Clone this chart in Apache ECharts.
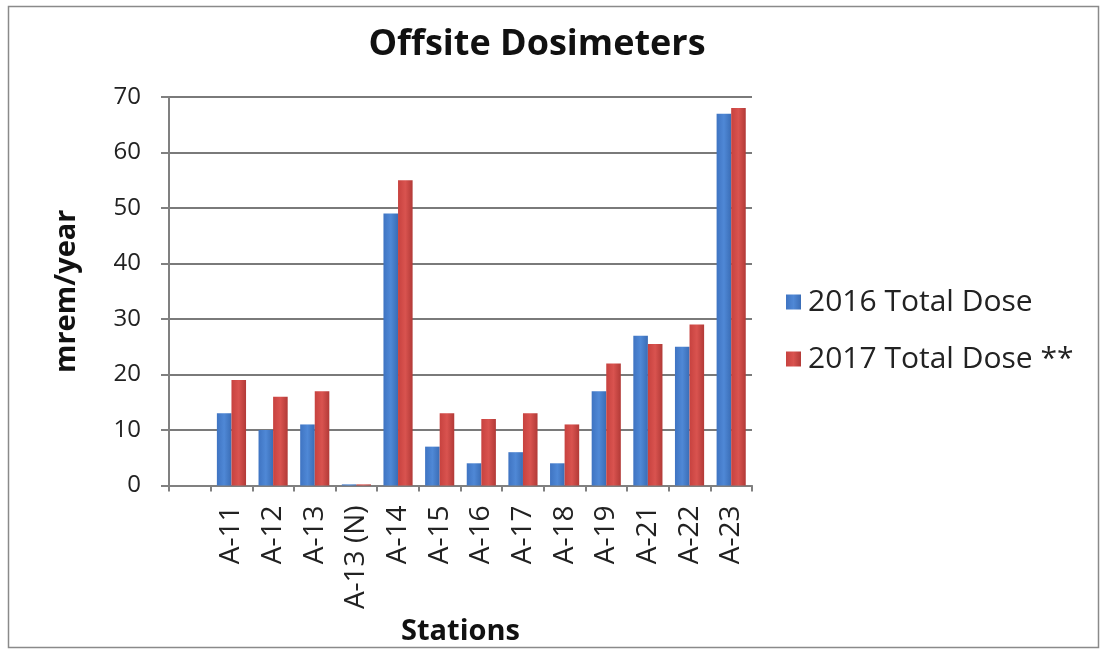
<!DOCTYPE html>
<html>
<head>
<meta charset="utf-8">
<script src="https://cdn.jsdelivr.net/npm/echarts@6/dist/echarts.min.js"></script>
<style>
  html, body { margin: 0; padding: 0; background: #fff; }
  #main { width: 1103px; height: 651px; }
</style>
</head>
<body>
<div id="main"></div>
<script>
  // stations (first slot is empty in the original)
  var stations = ['', 'A-11', 'A-12', 'A-13', 'A-13 (N)', 'A-14', 'A-15', 'A-16', 'A-17', 'A-18', 'A-19', 'A-21', 'A-22', 'A-23'];
  var dose2016 = [null, 13, 10, 11, 0.2, 49, 7, 4, 6, 4, 17, 27, 25, 67];
  var dose2017 = [null, 19, 16, 17, 0.2, 55, 13, 12, 13, 11, 22, 25.5, 29, 68];
  var yTicks = [0, 10, 20, 30, 40, 50, 60, 70];

  var chart = echarts.init(document.getElementById('main'));

  var font = '"Open Sans", "DejaVu Sans", sans-serif';

  var option = {
    backgroundColor: '#fff',
    animation: false,
    textStyle: { fontFamily: font },
    title: {
      text: 'Offsite Dosimeters',
      left: 532,
      top: 22,
      textAlign: 'center',
      textStyle: { fontSize: 36, fontWeight: 'bold', color: '#111', fontFamily: font }
    },
    legend: {
      orient: 'vertical',
      left: 781,
      top: 282,
      itemWidth: 15,
      itemHeight: 15,
      itemGap: 27,
      icon: 'rect',
      textStyle: { fontSize: 30, color: '#222', fontFamily: font, padding: [0, 0, 0, 2] },
      data: ['2016 Total Dose', '2017 Total Dose **']
    },
    grid: {
      left: 169,
      right: 351,
      top: 97,
      bottom: 165
    },
    xAxis: {
      type: 'category',
      data: stations,
      name: 'Stations',
      nameLocation: 'middle',
      nameGap: 122,
      nameTextStyle: { fontSize: 29, fontWeight: 'bold', color: '#111' },
      axisLine: { lineStyle: { color: '#808080', width: 2 } },
      axisTick: { show: true, lineStyle: { color: '#808080', width: 2 }, length: 6 },
      axisLabel: {
        rotate: 90,
        interval: 0,
        fontSize: 28,
        color: '#222',
        margin: 20
      }
    },
    yAxis: {
      type: 'value',
      min: 0,
      max: 70,
      interval: 10,
      name: 'mrem/year',
      nameLocation: 'middle',
      nameGap: 88,
      nameTextStyle: { fontSize: 29, fontWeight: 'bold', color: '#111' },
      axisLine: { show: true, lineStyle: { color: '#808080', width: 2 } },
      axisTick: { show: true, lineStyle: { color: '#808080', width: 2 }, length: 8 },
      axisLabel: {
        fontSize: 24,
        color: '#222',
        margin: 28,
        formatter: function (v) { return yTicks.indexOf(v) >= 0 ? String(v) : ''; }
      },
      splitLine: { lineStyle: { color: '#7a7a7a', width: 2 } }
    },
    series: [
      {
        name: '2016 Total Dose',
        type: 'bar',
        data: dose2016,
        barGap: '0%',
        barCategoryGap: '30%',
        itemStyle: {
          color: new echarts.graphic.LinearGradient(0, 0, 1, 0, [
            { offset: 0, color: '#3f74c2' },
            { offset: 0.5, color: '#4f88d6' },
            { offset: 1, color: '#3a6db6' }
          ])
        }
      },
      {
        name: '2017 Total Dose **',
        type: 'bar',
        data: dose2017,
        itemStyle: {
          color: new echarts.graphic.LinearGradient(0, 0, 1, 0, [
            { offset: 0, color: '#c7423f' },
            { offset: 0.5, color: '#d9534f' },
            { offset: 1, color: '#b23a37' }
          ])
        }
      }
    ],
    graphic: [
      {
        type: 'rect',
        left: 6,
        top: 4,
        shape: { width: 1090, height: 641 },
        style: { fill: 'none', stroke: '#8a8a8a', lineWidth: 1.5 },
        silent: true
      }
    ]
  };

  chart.setOption(option);
</script>
</body>
</html>
